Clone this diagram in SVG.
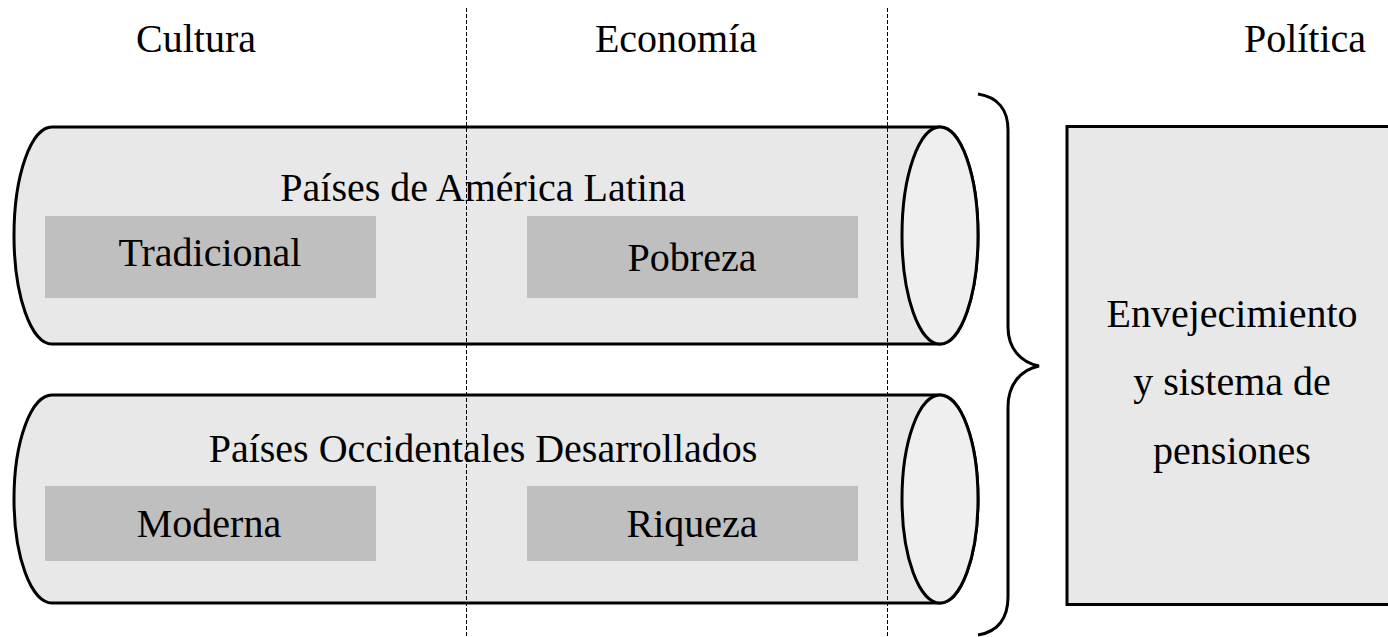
<svg xmlns="http://www.w3.org/2000/svg" width="1388" height="637" viewBox="0 0 1388 637">
<style>
text{font-family:"Liberation Serif","Times New Roman",serif;font-size:40px;fill:#000;text-anchor:middle}
.body{fill:#e8e8e8;stroke:#000;stroke-width:3}
.cap{fill:#efefef;stroke:#000;stroke-width:3}
.inner{fill:#bfbfbf}
.dash{stroke:#000;stroke-width:1;stroke-dasharray:4 2;fill:none}
.brace{fill:none;stroke:#000;stroke-width:3}
</style>
<rect width="1388" height="637" fill="#fff"/>
<g id="headers">
<text x="196" y="52">Cultura</text>
<text x="676" y="52">Economía</text>
<text x="1305" y="52">Política</text>
</g>
<g id="cyl-latam">
<path class="body" d="M52,127 H940 A38,108.5 0 0 1 940,344 H52 A38,108.5 0 0 1 52,127 Z"/>
<ellipse class="cap" cx="940" cy="235.5" rx="38" ry="108.5"/>
<text x="483" y="201">Países de América Latina</text>
<rect class="inner" x="45" y="216" width="331" height="82"/>
<text x="210" y="266">Tradicional</text>
<rect class="inner" x="527" y="216" width="331" height="82"/>
<text x="692" y="271">Pobreza</text>
</g>
<g id="cyl-occ">
<path class="body" d="M52,395 H940 A38,104 0 0 1 940,603 H52 A38,104 0 0 1 52,395 Z"/>
<ellipse class="cap" cx="940" cy="499" rx="38" ry="104"/>
<text x="483" y="462">Países Occidentales Desarrollados</text>
<rect class="inner" x="45" y="486" width="331" height="75"/>
<text x="209" y="537">Moderna</text>
<rect class="inner" x="527" y="486" width="331" height="75"/>
<text x="692" y="537">Riqueza</text>
</g>
<g id="politica">
<rect x="1067" y="126.5" width="330" height="478" fill="#e8e8e8" stroke="#000" stroke-width="3"/>
<text x="1232" y="327">Envejecimiento</text>
<text x="1232" y="395">y sistema de</text>
<text x="1232" y="464">pensiones</text>
</g>
<g id="connectors">
<path class="brace" d="M978,94 C998,97 1008,110 1008,130 V327 C1008,348 1020,362 1039,366 C1020,370 1008,385 1008,407 V597 C1008,618 998,632 978,635"/>
<line class="dash" x1="466.5" y1="8" x2="466.5" y2="637"/>
<line class="dash" x1="887.5" y1="8" x2="887.5" y2="637"/>
</g>
</svg>
